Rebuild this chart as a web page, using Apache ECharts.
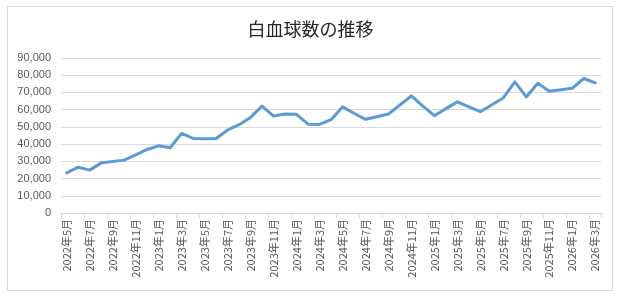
<!DOCTYPE html>
<html>
<head>
<meta charset="utf-8">
<script src="https://cdn.jsdelivr.net/npm/echarts@6/dist/echarts.min.js"></script>
<style>
html,body{margin:0;padding:0;background:#fff;}
#c{width:621px;height:297px;}
</style>
</head>
<body>
<div id="c"></div>
<script>
const titleText = "白血球数の推移";
const months = (function(){
  const out = [];
  let y = 2022, m = 5;
  while (y < 2026 || (y === 2026 && m <= 3)) {
    out.push(y + "年" + m + "月");
    m++; if (m > 12) { m = 1; y++; }
  }
  return out;
})();
const wbcValues = [
  23300, 26600, 24900, 29100, 29900, 30700, 33800, 36900, 39000, 37900,
  46200, 43300, 43100, 43300, 48200, 51300, 55500, 62100, 56300, 57500,
  57300, 51600, 51400, 54200, 61600, 57900, 54400, 55900, 57500, 62700,
  68000, 62100, 56500, 60600, 64500, 61600, 58800, 62900, 66800, 76100,
  67400, 75300, 70700, 71500, 72400, 78100, 75500
];
const yMin = 0, yMax = 90000, yStep = 10000;

const chart = echarts.init(document.getElementById('c'), null, {renderer: 'canvas'});
const font = '"Noto Sans CJK JP", "Liberation Sans", sans-serif';
chart.setOption({
  animation: false,
  backgroundColor: '#ffffff',
  graphic: [{
    type: 'rect',
    shape: {x: 7.5, y: 6.5, width: 605, height: 284},
    style: {fill: 'none', stroke: '#d9d9d9', lineWidth: 1},
    silent: true
  }],
  title: {
    text: titleText,
    left: 'center',
    top: 15,
    textStyle: {fontFamily: font, fontSize: 18, fontWeight: 'normal', color: '#262626'}
  },
  grid: {left: 61, right: 20, top: 58, bottom: 84, containLabel: false},
  xAxis: {
    type: 'category',
    data: months,
    boundaryGap: true,
    axisLine: {lineStyle: {color: '#d9d9d9', width: 1}},
    axisTick: {show: true, interval: 1, length: 5, lineStyle: {color: '#d9d9d9'}},
    axisLabel: {interval: 1, rotate: 90, margin: 6, color: '#595959', fontSize: 11, fontFamily: font}
  },
  yAxis: {
    type: 'value',
    min: yMin, max: yMax, interval: yStep,
    axisLine: {show: false},
    axisTick: {show: false},
    splitLine: {lineStyle: {color: '#d9d9d9', width: 1}},
    axisLabel: {
      margin: 10, color: '#595959', fontSize: 11, fontFamily: '"Liberation Sans", sans-serif',
      formatter: function(v){ return v.toLocaleString('en-US'); }
    }
  },
  series: [{
    type: 'line',
    data: wbcValues,
    symbol: 'none',
    lineStyle: {color: '#5b9bd5', width: 3, join: 'round', cap: 'round'},
    itemStyle: {color: '#5b9bd5'}
  }]
});
</script>
</body>
</html>
